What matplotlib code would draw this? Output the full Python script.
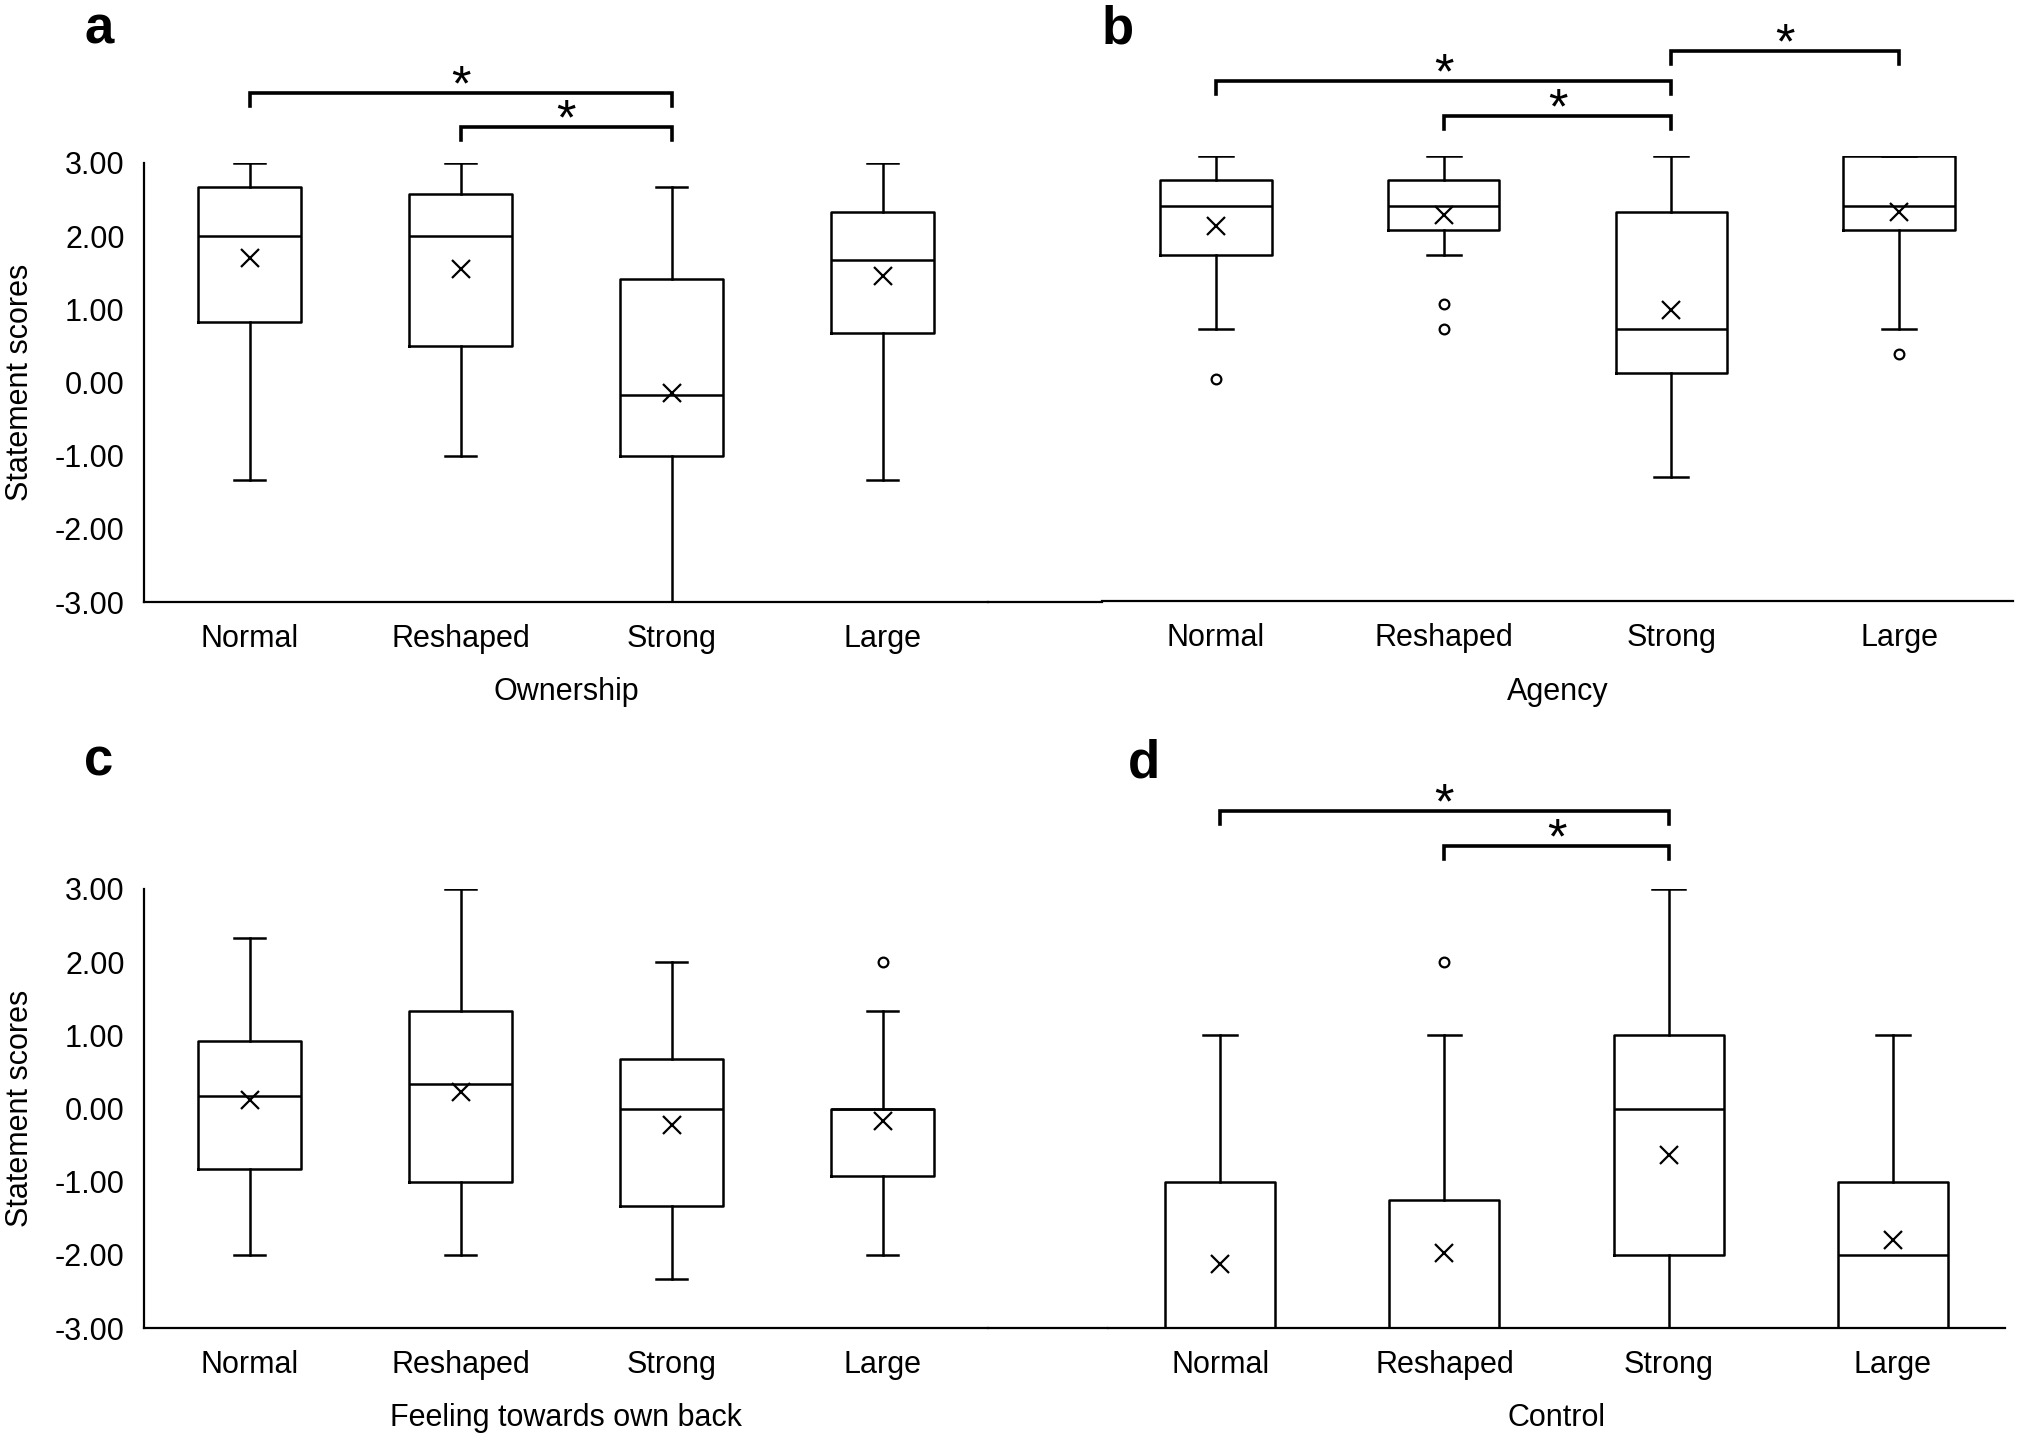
import matplotlib
matplotlib.use("Agg")
import matplotlib.pyplot as plt

plt.rcParams['font.family'] = ['Liberation Sans', 'DejaVu Sans']

# ---------------- data ----------------
categories = ["Normal", "Reshaped", "Strong", "Large"]
y_ticks = [-3, -2, -1, 0, 1, 2, 3]
y_tick_labels = ["-3.00", "-2.00", "-1.00", "0.00", "1.00", "2.00", "3.00"]

# a: Ownership
own_q1 = [0.83, 0.50, -1.00, 0.67]
own_med = [2.00, 2.00, -0.17, 1.67]
own_q3 = [2.67, 2.58, 1.42, 2.33]
own_lo = [-1.33, -1.00, -3.00, -1.33]
own_hi = [3.00, 3.00, 2.67, 3.00]
own_mean = [1.70, 1.55, -0.15, 1.45]
own_fliers = [[], [], [], []]

# b: Agency
agc_q1 = [1.67, 2.00, 0.08, 2.00]
agc_med = [2.33, 2.33, 0.67, 2.33]
agc_q3 = [2.67, 2.67, 2.25, 3.00]
agc_lo = [0.67, 1.67, -1.33, 0.67]
agc_hi = [3.00, 3.00, 3.00, 3.00]
agc_mean = [2.06, 2.20, 0.92, 2.24]
agc_fliers = [[0.00], [1.00, 0.67], [], [0.33]]

# c: Feeling towards own back
fel_q1 = [-0.83, -1.00, -1.33, -0.92]
fel_med = [0.17, 0.33, 0.00, 0.00]
fel_q3 = [0.92, 1.33, 0.67, 0.00]
fel_lo = [-2.00, -2.00, -2.33, -2.00]
fel_hi = [2.33, 3.00, 2.00, 1.33]
fel_mean = [0.12, 0.23, -0.23, -0.17]
fel_fliers = [[], [], [], [2.00]]

# d: Control
ctl_q1 = [-3.00, -3.00, -2.00, -3.00]
ctl_med = [-3.00, -3.00, 0.00, -2.00]
ctl_q3 = [-1.00, -1.25, 1.00, -1.00]
ctl_lo = [-3.00, -3.00, -3.00, -3.00]
ctl_hi = [1.00, 1.00, 3.00, 1.00]
ctl_mean = [-2.13, -1.97, -0.64, -1.80]
ctl_fliers = [[], [2.00], [], []]

# significant pairs (category indices)
own_pairs = [(0, 2), (1, 2)]
agc_pairs = [(0, 2), (1, 2), (2, 3)]
fel_pairs = []
ctl_pairs = [(0, 2), (1, 2)]

panel_letters = ["a", "b", "c", "d"]
x_titles = ["Ownership", "Agency", "Feeling towards own back", "Control"]
y_title = "Statement scores"

# ---------------- layout ----------------
W, H = 2018, 1436
fig = plt.figure(figsize=(W / 100, H / 100), dpi=100)


def rect(x0, x1, ytop, ybot):
    return [x0 / W, 1 - ybot / H, (x1 - x0) / W, (ybot - ytop) / H]


rects = [rect(144, 988, 163, 602), rect(1102, 2013, 156, 601),
         rect(144, 988, 889, 1328), rect(1108, 2005, 889, 1328)]

# bracket heights (data units): (top, tick bottom) per pair
bracket_levels = [
    [(3.957, 3.779), (3.492, 3.314)],
    [(4.014, 3.838), (3.541, 3.365), (4.419, 4.243)],
    [],
    [(4.066, 3.888), (3.588, 3.410)],
]

letter_pos = [(84, 43), (1102, 44), (84, 776), (1128, 777)]

panels = [
    (own_q1, own_med, own_q3, own_lo, own_hi, own_mean, own_fliers, own_pairs),
    (agc_q1, agc_med, agc_q3, agc_lo, agc_hi, agc_mean, agc_fliers, agc_pairs),
    (fel_q1, fel_med, fel_q3, fel_lo, fel_hi, fel_mean, fel_fliers, fel_pairs),
    (ctl_q1, ctl_med, ctl_q3, ctl_lo, ctl_hi, ctl_mean, ctl_fliers, ctl_pairs),
]

LW = 1.8
FS = 22

for k, (q1, med, q3, lo, hi, mean, fl, pairs) in enumerate(panels):
    ax = fig.add_axes(rects[k])
    stats = []
    for i, c in enumerate(categories):
        stats.append(dict(label=c, q1=q1[i], med=med[i], q3=q3[i],
                          whislo=lo[i], whishi=hi[i], mean=mean[i],
                          fliers=fl[i]))
    pos = list(range(len(categories)))
    ax.bxp(stats, positions=pos, widths=0.49, capwidths=0.15,
           showmeans=True,
           boxprops=dict(color="black", linewidth=LW),
           whiskerprops=dict(color="black", linewidth=LW),
           capprops=dict(color="black", linewidth=LW),
           medianprops=dict(color="black", linewidth=LW),
           meanprops=dict(marker="x", markeredgecolor="black",
                          markersize=13, markeredgewidth=1.6),
           flierprops=dict(marker="o", markerfacecolor="white",
                           markeredgecolor="black", markersize=7,
                           markeredgewidth=1.6))
    ax.set_xlim(-0.5, len(categories) - 0.5)
    ax.set_ylim(-3, 3)
    ax.set_xticks(pos)
    ax.set_xticklabels(categories, fontsize=FS)
    ax.tick_params(axis="x", length=0, pad=15.5)
    for s in ["top", "right"]:
        ax.spines[s].set_visible(False)
    ax.spines["bottom"].set_linewidth(1.6)
    ax.spines["left"].set_linewidth(1.6)
    if k in (0, 2):
        ax.set_yticks(y_ticks)
        ax.set_yticklabels(y_tick_labels, fontsize=FS)
        ax.tick_params(axis="y", length=0, pad=14)
        ax.set_ylabel(y_title, fontsize=FS)
        ax.yaxis.set_label_coords(-0.129, 0.5)
        # continue the baseline towards the right-hand panel
        x_end = (rects[k + 1][0] - rects[k][0]) / rects[k][2]
        ax.plot([1, x_end], [0, 0], transform=ax.transAxes, color="black",
                linewidth=1.6, clip_on=False)
    else:
        ax.spines["left"].set_visible(False)
        ax.set_yticks([])
    ax.set_xlabel(x_titles[k], fontsize=FS)
    ax.xaxis.set_label_coords(0.5, -0.170)

    for (i, j), (ytop, ybot) in zip(pairs, bracket_levels[k]):
        ax.plot([i, i, j, j], [ybot, ytop, ytop, ybot], color="black",
                linewidth=2.6, clip_on=False, solid_joinstyle="miter")
        ax.annotate("*", xy=((i + j) / 2, ytop), xytext=(0, -5.5),
                    textcoords="offset points", ha="center", va="baseline",
                    fontsize=36, annotation_clip=False)

    lx, ly = letter_pos[k]
    fig.text(lx / W, 1 - ly / H, panel_letters[k], fontsize=38,
             fontweight="bold", ha="left", va="baseline")

fig.savefig("out.png", dpi=100, facecolor="white")
